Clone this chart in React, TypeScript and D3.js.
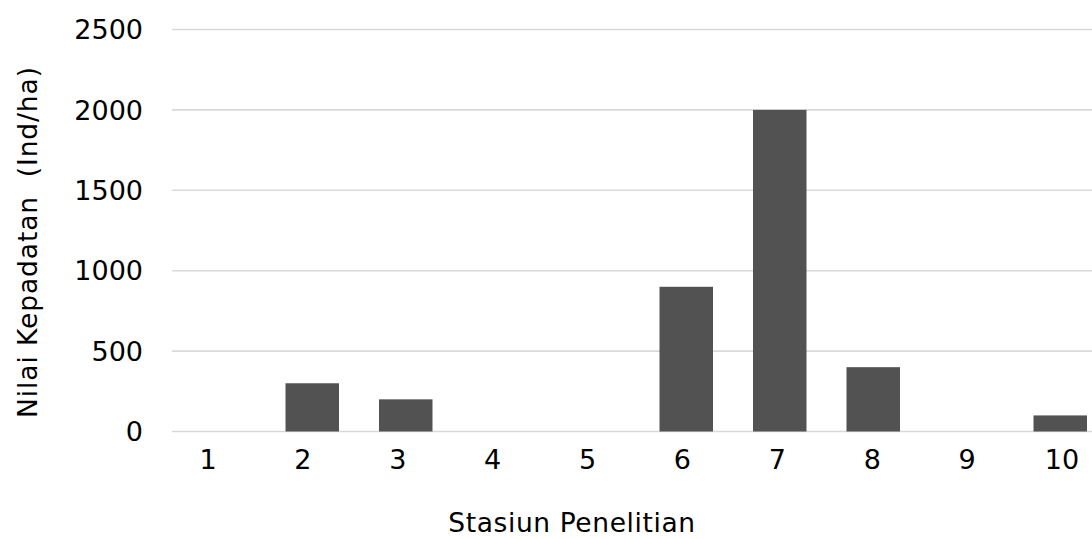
import React from "react";
import * as d3 from "d3";

const categories = ["1", "2", "3", "4", "5", "6", "7", "8", "9", "10"];
const values = [0, 300, 200, 0, 0, 900, 2000, 400, 0, 100];
const yTicks = [0, 500, 1000, 1500, 2000, 2500];
const xTitle = "Stasiun Penelitian";
const yTitle = "Nilai Kepadatan\u00a0 (Ind/ha)";

const W = 1092;
const H = 539;
const FONT = "'DejaVu Sans', Verdana, sans-serif";

export default function App() {
  const x = d3
    .scaleBand<string>()
    .domain(categories)
    .range([172, 1107])
    .paddingInner(0.428)
    .paddingOuter(0.214);
  const xLabel = d3.scalePoint<string>().domain(categories).range([208, 1062]);
  const y = d3.scaleLinear().domain([0, 2500]).range([431.5, 29.5]);

  return (
    <svg
      width={W}
      height={H}
      style={{ position: "absolute", left: 0, top: 0, background: "#fff" }}
      fontFamily={FONT}
    >
      {yTicks.map((t) => (
        <g key={t}>
          <line x1={172} x2={1107} y1={y(t)} y2={y(t)} stroke="#d9d9d9" strokeWidth={1.6} />
          <text x={143} y={y(t)} dy="0.36em" textAnchor="end" fontSize={27} fill="#000">
            {t}
          </text>
        </g>
      ))}
      {categories.map((c, i) => (
        <rect
          key={c}
          x={x(c)}
          width={x.bandwidth()}
          y={y(values[i])}
          height={y(0) - y(values[i])}
          fill="#525252"
        />
      ))}
      {categories.map((c) => (
        <text key={c} x={xLabel(c)} y={469} textAnchor="middle" fontSize={27} fill="#000">
          {c}
        </text>
      ))}
      <text x={572} y={532} textAnchor="middle" fontSize={26.5} letterSpacing={0.6} fill="#000">
        {xTitle}
      </text>
      <text
        transform={`translate(37, 242) rotate(-90)`}
        textAnchor="middle"
        fontSize={26.5}
        letterSpacing={0.9}
        fill="#000"
      >
        {yTitle}
      </text>
    </svg>
  );
}
